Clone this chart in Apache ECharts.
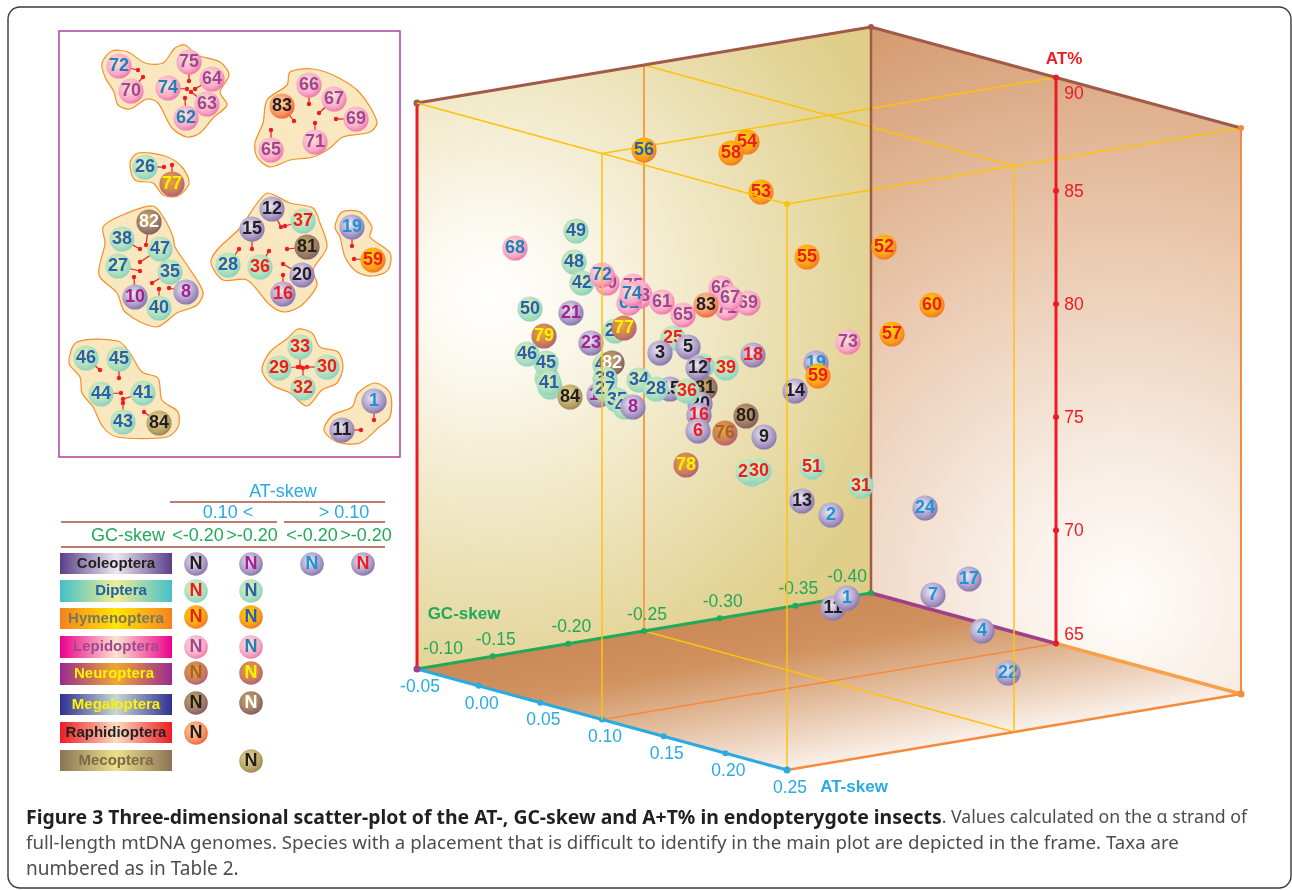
<!DOCTYPE html>
<html>
<head>
<meta charset="utf-8">
<style>
  html, body { margin: 0; padding: 0; background: #fff; }
  #main { width: 1292px; height: 890px; }
</style>
<script src="https://cdn.jsdelivr.net/npm/echarts@6/dist/echarts.min.js"></script>
</head>
<body>
<div id="main"></div>
<script>
// taxon number, then position in the picture plane (hidden axes, 0..1292 and 0..890), in paint order
const mainPoints = [
  [56,644,150],[54,747,142],[58,731,153],[53,761,192],[55,807,257],[52,884,247],[60,932,305],[57,892,334],[73,848,342],
  [68,515,248],[49,576,231],[48,574,262],[42,582,283],[70,607,283],[72,602,275],[50,530,309],[21,571,313],[79,544,336],[23,591,343],
  [44,547,378],[43,550,387],[45,546,363],[46,527,354],[41,549,383],[84,570,397],
  [26,615,331],[77,624,328],[47,605,365],[82,612,363],[38,605,379],[10,599,395],[27,605,389],[35,617,400],[40,625,407],[8,633,407],
  [34,639,380],[15,670,389],[28,656,389],
  [75,633,286],[64,639,293],[63,640,296],[62,629,303],[74,632,294],[61,662,302],[65,683,315],
  [71,727,308],[69,748,303],[66,721,288],[67,730,298],[83,706,305],
  [25,673,338],[3,660,353],[5,688,347],[37,702,366],[81,705,388],[12,698,368],[39,726,368],[18,753,355],
  [20,700,404],[16,699,415],[6,698,431],[36,687,391],[80,746,416],[76,725,433],[9,764,437],[78,686,465],
  [19,816,363],[59,818,376],[14,795,391],[51,812,467],[31,861,486],[13,802,501],[2,831,515],
  [33,750,473],[32,752,474],[29,748,472],[30,759,471],[24,925,508],[17,969,579],[7,933,595],[4,982,631],[22,1008,673],[11,833,608],[1,847,598]
];
// inset: taxon number, ball x, y, end of the red leader x, y
const insetPoints = [
  [72,119,66,138,70],[70,131,91,143,77],[75,189,62,189,81],[64,212,79,195,89],[74,168,88,187,89],[63,207,104,191,92],[62,186,118,185,98],
  [66,309,85,309,104],[67,334,99,319,113],[83,282,106,294,121],[69,356,119,336,119],[71,315,142,315,123],[65,271,150,271,130],
  [26,145,167,164,167],[77,172,184,172,165],
  [82,149,222,146,245],[38,122,239,140,249],[47,160,249,140,262],[27,118,266,140,271],[35,170,272,152,283],[10,135,297,134,277],[8,186,292,169,288],[40,159,308,159,289],
  [12,272,209,281,227],[37,303,221,285,226],[15,252,229,252,249],[81,307,247,287,249],[28,228,265,239,249],[36,260,267,269,251],[20,302,275,283,264],[16,283,294,283,275],
  [19,352,227,352,246],[59,373,260,354,259],
  [46,86,358,100,370],[45,119,359,119,378],[44,101,394,121,393],[41,143,393,123,399],[43,123,422,123,403],[84,159,423,144,412],
  [33,300,347,300,367],[29,279,368,298,367],[30,327,367,307,367],[32,303,388,303,368],
  [1,374,401,374,420],[11,342,430,361,430]
];
const insetHulls = [
  [[102,63],[112,51],[128,52],[145,63],[163,63],[175,48],[185,45],[197,55],[220,62],[229,75],[220,92],[227,105],[213,118],[200,133],[187,137],[172,128],[158,103],[147,99],[130,109],[118,105],[114,92],[105,77]],
  [[290,72],[313,69],[337,77],[360,93],[377,122],[370,132],[343,137],[330,148],[313,157],[290,160],[270,167],[257,157],[255,143],[263,123],[267,100],[287,85]],
  [[130,163],[138,153],[165,156],[182,167],[189,183],[178,196],[163,195],[153,183],[135,180]],
  [[153,206],[165,220],[173,237],[175,247],[187,265],[203,292],[197,305],[177,313],[156,327],[125,312],[117,293],[99,275],[105,243],[103,227],[120,216]],
  [[258,202],[268,193],[290,203],[313,208],[320,223],[327,247],[313,270],[317,285],[302,305],[285,312],[270,305],[247,280],[223,280],[211,263],[217,250],[240,228]],
  [[335,227],[342,212],[360,212],[372,227],[370,237],[390,253],[388,270],[373,276],[357,272],[345,257],[340,237]],
  [[69,363],[77,342],[118,341],[130,353],[142,372],[158,378],[162,400],[178,412],[178,427],[167,437],[117,437],[103,427],[93,407],[82,393],[80,377]],
  [[288,338],[298,329],[312,333],[320,347],[338,352],[343,367],[337,383],[322,390],[307,406],[290,393],[272,385],[262,370],[270,352]],
  [[358,393],[375,383],[390,393],[390,417],[378,428],[360,443],[337,442],[324,430],[333,415],[352,407]]
];

// membership of each legend cell
const coleopteraBlack = [3,5,9,11,12,13,14,15,20];
const coleopteraMagenta = [8,10,21,23];
const coleopteraBlue = [1,2,4,7,17,19,22,24];
const coleopteraRed = [6,16,18];
const dipteraRed = [25,29,30,31,32,33,36,37,39,51];
const dipteraBlue = [26,27,28,34,35,38,40,41,42,43,44,45,46,47,48,49,50];
const hymenopteraRed = [52,53,54,55,57,58,59,60];
const hymenopteraBlue = [56];
const lepidopteraPurple = [61,63,64,65,66,67,69,70,71,73,75];
const lepidopteraBlue = [62,68,72,74];
const neuropteraBrown = [76];
const neuropteraYellow = [77,78,79];
const megalopteraBlack = [80,81];
const megalopteraWhite = [82];
const raphidiopteraBlack = [83];
const mecopteraBlack = [84];

const atSkewTicks = [-0.05,0,0.05,0.10,0.15,0.20,0.25];
const gcSkewTicks = [-0.10,-0.15,-0.20,-0.25,-0.30,-0.35,-0.40];
const atPercentTicks = [65,70,75,80,85,90];
const taxonNames = ['Coleoptera','Diptera','Hymenoptera','Lepidoptera','Neuroptera','Megaloptera','Raphidioptera','Mecoptera'];

const BLACK = '#231f20', RED = '#ed1c24', NAVY = '#2860ab', SKY = '#1c93d7', MAGENTA = '#a5208f',
  PLUM = '#a0488f', TEAL = '#2080b8', BROWN = '#a6622a', YELLOW = '#fff200', WHITE = '#ffffff';

const ballStops = {
  Coleoptera: ['#ece8f2', '#a99ac6', '#8a78ad'],
  Diptera: ['#f0efae', '#aadfc0', '#8fd3bb'],
  Hymenoptera: ['#ffdc00', '#f9a01b', '#f37a20'],
  Lepidoptera: ['#fde3d2', '#f9a9c8', '#f27aaa'],
  Neuroptera: ['#eaa63a', '#c97c5c', '#b65f7c'],
  Megaloptera: ['#cdae62', '#9c7a68', '#83605f'],
  Raphidioptera: ['#fcd6a6', '#f89262', '#f1683c'],
  Mecoptera: ['#ecdc9c', '#baa66a', '#9e8856']
};
const barStyles = [
  ['#5b3f87', '#ebe7f1', BLACK],
  ['#45bfc9', '#f0ee90', '#2260ab'],
  ['#f58220', '#ffe600', '#7d7560'],
  ['#ec008c', '#fbe5cf', PLUM],
  ['#9a2b92', '#f0a830', YELLOW],
  ['#2e3192', '#c8d8d0', YELLOW],
  ['#ed1c24', '#fbdcc0', BLACK],
  ['#8b7355', '#f0e08a', '#7a6a4a']
];
// taxon row, column, ids, ink
const legendCells = [
  [0,0,coleopteraBlack,BLACK],[0,1,coleopteraMagenta,MAGENTA],[0,2,coleopteraBlue,SKY],[0,3,coleopteraRed,RED],
  [1,0,dipteraRed,RED],[1,1,dipteraBlue,NAVY],
  [2,0,hymenopteraRed,RED],[2,1,hymenopteraBlue,NAVY],
  [3,0,lepidopteraPurple,PLUM],[3,1,lepidopteraBlue,TEAL],
  [4,0,neuropteraBrown,BROWN],[4,1,neuropteraYellow,YELLOW],
  [5,0,megalopteraBlack,BLACK],[5,1,megalopteraWhite,WHITE],
  [6,0,raphidiopteraBlack,BLACK],
  [7,1,mecopteraBlack,BLACK]
];
const legendColX = [196,251,312,363];
const legendRowY = [564,591,617,647,673,703,733,761];
const barRowY = [553,580,608,636,663,694,722,750];
const barRowH = [21,22,21,22,22,21,21,21];
const barTextX = [116,121,116,116,114,116,116,116];

const lookup = {};
legendCells.forEach(function (c) {
  c[2].forEach(function (id) { lookup[id] = { taxon: taxonNames[c[0]], ink: c[3] }; });
});

// the box is an oblique projection: AT-skew and GC-skew run along the floor, A+T% straight up
function project(at, gc, pct) {
  const a = (at + 0.05) / 0.30, g = (-0.10 - gc) / 0.30;
  return [417 + a * 370 + g * 454, 669 + a * 101 - g * 76 - (pct - 65) * 566 / 25];
}

function ball(x, y, id, text, order, ink, r) {
  const s = ballStops[lookup[id].taxon];
  return [
    { type: 'circle', z2: order * 2, shape: { cx: x, cy: y, r: r },
      style: { fill: { type: 'radial', x: 0.42, y: 0.38, r: 0.62, colorStops: [
        { offset: 0, color: s[0] }, { offset: 0.72, color: s[1] }, { offset: 1, color: s[2] }] } } },
    { type: 'text', z2: order * 2 + 1, x: x, y: y + 0.5,
      style: { text: text, fill: ink, font: 'bold 18px "Liberation Sans"', align: 'center', verticalAlign: 'middle' } }
  ];
}

function renderBalls(params, api) {
  const id = api.value(0);
  const p = api.coord([api.value(1), api.value(2)]);
  return { type: 'group', children: ball(p[0], p[1], id, String(id), params.dataIndex + 1, lookup[id].ink, 12.6) };
}

function line3(api, a, b, color, width) {
  const p = api.coord(project(a[0], a[1], a[2])), q = api.coord(project(b[0], b[1], b[2]));
  return { type: 'line', shape: { x1: p[0], y1: p[1], x2: q[0], y2: q[1] }, style: { stroke: color, lineWidth: width } };
}
function dot3(api, a, color, r) {
  const p = api.coord(project(a[0], a[1], a[2]));
  return { type: 'circle', z2: 5, shape: { cx: p[0], cy: p[1], r: r }, style: { fill: color } };
}
function wall(api, corners, fill) {
  return { type: 'polygon', shape: { points: corners.map(function (c) { return api.coord(project(c[0], c[1], c[2])); }) }, style: { fill: fill } };
}
function tickLabel(api, a, text, dx, dy, color) {
  const p = api.coord(project(a[0], a[1], a[2]));
  return { type: 'text', z2: 6, x: p[0] + dx, y: p[1] + dy,
    style: { text: text, fill: color, font: '17.5px "Liberation Sans"', align: 'center', verticalAlign: 'middle' } };
}

const AT0 = -0.05, AT1 = 0.25, ATM = 0.10, GC0 = -0.10, GC1 = -0.40, GCM = -0.25, P0 = 65, P1 = 90;
const LINE_YELLOW = '#fcc30d', LINE_ORANGE = '#f58a3c', EDGE_BROWN = '#a25a48';
const GC_GREEN = '#21a95a', AT_BLUE = '#29abe2';

function renderBox(params, api) {
  const c = [];
  c.push(wall(api, [[AT0,GC0,P1],[AT0,GC1,P1],[AT0,GC1,P0],[AT0,GC0,P0]],
    { type: 'radial', x: 0.16, y: 0.42, r: 1.0, colorStops: [
      { offset: 0, color: '#ffffff' }, { offset: 0.12, color: '#fdfbf4' }, { offset: 0.5, color: '#efe6c2' }, { offset: 0.9, color: '#e1d08e' }, { offset: 1, color: '#dfcd88' }] }));
  c.push(wall(api, [[AT0,GC1,P1],[AT1,GC1,P1],[AT1,GC1,P0],[AT0,GC1,P0]],
    { type: 'radial', x: 0.68, y: 0.86, r: 1.75, colorStops: [
      { offset: 0, color: '#fffdfb' }, { offset: 0.2, color: '#f8eee5' }, { offset: 0.6, color: '#e8c4a8' }, { offset: 1, color: '#d2966a' }] }));
  // floor shades from the GC-skew edge towards the front edge
  c.push(wall(api, [[AT0,GC0,P0],[AT0,GC1,P0],[AT1,GC1,P0],[AT1,GC0,P0]],
    { type: 'linear', x: 0.275, y: 0.215, x2: 0.308, y2: 1.11, colorStops: [
      { offset: 0, color: '#cb8a58' }, { offset: 0.28, color: '#d0925f' }, { offset: 1, color: '#faf0e8' }] }));

  // thin guide planes behind the balls
  c.push(line3(api, [AT0,GCM,P0], [AT0,GCM,P1], '#f59f4e', 2));
  c.push(line3(api, [ATM,GC0,P1], [ATM,GC1,P1], LINE_YELLOW, 1.5));
  c.push(line3(api, [AT1,GC0,P1], [AT1,GC1,P1], LINE_YELLOW, 1.5));
  c.push(line3(api, [AT0,GCM,P1], [AT1,GCM,P1], LINE_YELLOW, 1.5));
  c.push(line3(api, [AT0,GCM,P0], [AT1,GCM,P0], LINE_YELLOW, 1.5));
  c.push(line3(api, [ATM,GC0,P0], [ATM,GC1,P0], LINE_ORANGE, 1.3));

  // box edges
  c.push(line3(api, [AT0,GC0,P1], [AT0,GC1,P1], EDGE_BROWN, 3));
  c.push(line3(api, [AT0,GC1,P1], [AT1,GC1,P1], EDGE_BROWN, 3));
  c.push(line3(api, [AT0,GC1,P0], [AT0,GC1,P1], EDGE_BROWN, 2.5));
  c.push(line3(api, [AT0,GC0,P0], [AT0,GC0,P1], RED, 3));
  c.push(line3(api, [AT1,GC1,P0], [AT1,GC1,P1], LINE_ORANGE, 2));
  c.push(line3(api, [AT1,GC0,P0], [AT1,GC1,P0], LINE_ORANGE, 2.5));
  c.push(line3(api, [AT0,GC1,P0], [ATM,GC1,P0], '#a0408c', 3.5));
  c.push(line3(api, [ATM,GC1,P0], [AT1,GC1,P0], '#f7a14a', 3.5));
  c.push(line3(api, [AT0,GC0,P0], [AT0,GC1,P0], GC_GREEN, 3));
  c.push(line3(api, [AT0,GC0,P0], [AT1,GC0,P0], AT_BLUE, 3));
  c.push(line3(api, [ATM,GC1,P0], [ATM,GC1,P1], RED, 3));

  c.push(dot3(api, [AT0,GC0,P1], EDGE_BROWN, 3.5));
  c.push(dot3(api, [AT0,GC1,P1], EDGE_BROWN, 3));
  c.push(dot3(api, [AT1,GC1,P1], LINE_ORANGE, 3));
  c.push(dot3(api, [AT1,GC1,P0], LINE_ORANGE, 3.5));
  c.push(dot3(api, [AT0,GC0,P0], '#a0408c', 3.5));

  gcSkewTicks.forEach(function (g, i) {
    if (i > 0) c.push(dot3(api, [AT0,g,P0], GC_GREEN, 3));
    const dx = i === 0 ? 26 : i === 6 ? -24 : 3;
    const dy = i === 0 ? -20 : -16;
    c.push(tickLabel(api, [AT0,g,P0], g.toFixed(2), dx, dy, GC_GREEN));
  });
  atSkewTicks.forEach(function (a, i) {
    if (i > 0) c.push(dot3(api, [a,GC0,P0], AT_BLUE, 3));
    c.push(tickLabel(api, [a,GC0,P0], a.toFixed(2), 3, 18, AT_BLUE));
  });
  atPercentTicks.forEach(function (p, i) {
    c.push(dot3(api, [ATM,GC1,p], RED, 3));
    const dy = i === 0 ? -8 : i === 5 ? 17 : 1;
    c.push(tickLabel(api, [ATM,GC1,p], String(p), 18, dy, RED));
  });
  return { type: 'group', children: c };
}

// these guide lines pass in front of the balls
function renderFront(params, api) {
  return { type: 'group', children: [
    line3(api, [AT0,GC0,P1], [AT1,GC0,P1], LINE_YELLOW, 1.5),
    line3(api, [ATM,GC0,P0], [ATM,GC0,P1], LINE_YELLOW, 1.5),
    line3(api, [AT1,GC0,P0], [AT1,GC0,P1], LINE_YELLOW, 1.5),
    line3(api, [AT1,GCM,P0], [AT1,GCM,P1], LINE_YELLOW, 1.5),
    dot3(api, [AT1,GC0,P1], LINE_YELLOW, 3),
    dot3(api, [AT1,GC0,P0], AT_BLUE, 3.5)
  ] };
}

function renderHull(params, api) {
  const pts = insetHulls[params.dataIndex].map(function (p) { return api.coord(p); });
  return { type: 'polygon', shape: { points: pts, smooth: 0.3 }, style: { fill: '#f9e8bf', stroke: '#f58e2a', lineWidth: 1.2 } };
}

function renderInset(params, api) {
  const id = api.value(0);
  const p = api.coord([api.value(1), api.value(2)]);
  const q = api.coord([api.value(3), api.value(4)]);
  const children = [
    { type: 'line', z2: 0, shape: { x1: p[0], y1: p[1], x2: q[0], y2: q[1] }, style: { stroke: RED, lineWidth: 1.2 } },
    { type: 'circle', z2: 0, shape: { cx: q[0], cy: q[1], r: 2.2 }, style: { fill: RED } }
  ].concat(ball(p[0], p[1], id, String(id), 1, lookup[id].ink, 12.6));
  return { type: 'group', children: children };
}

function renderKey(params, api) {
  const cell = legendCells[params.dataIndex];
  const p = api.coord([legendColX[cell[1]], legendRowY[cell[0]]]);
  return { type: 'group', children: ball(p[0], p[1], cell[2][0], 'N', 1, cell[3], 11.8) };
}

function headText(text, x, y, color) {
  return { type: 'text', z: 9, x: x, y: y, style: { text: text, fill: color, font: '18px "Liberation Sans"', align: 'center', verticalAlign: 'middle' } };
}
function headRule(x1, x2, y) {
  return { type: 'line', z: 9, shape: { x1: x1, y1: y, x2: x2, y2: y }, style: { stroke: '#a8503c', lineWidth: 1.3 } };
}

const graphics = [
  { type: 'rect', z: 0, shape: { x: 8, y: 7, width: 1283, height: 881, r: 12 }, style: { fill: 'none', stroke: '#3a3a3a', lineWidth: 1.4 } },
  { type: 'rect', z: 1, shape: { x: 59, y: 31, width: 341, height: 426 }, style: { fill: 'none', stroke: '#b23fa6', lineWidth: 1.5 } },
  headText('AT-skew', 283, 492, AT_BLUE),
  headRule(170, 385, 502),
  headText('0.10 <', 228, 513, AT_BLUE),
  headText('> 0.10', 344, 513, AT_BLUE),
  headRule(61, 277, 522),
  headRule(284, 385, 522),
  headText('GC-skew', 128, 536, GC_GREEN),
  headText('<-0.20', 198, 536, GC_GREEN),
  headText('>-0.20', 252, 536, GC_GREEN),
  headText('<-0.20', 312, 536, GC_GREEN),
  headText('>-0.20', 366, 536, GC_GREEN),
  headRule(61, 385, 547),
  { type: 'text', z: 9, x: 464, y: 614, style: { text: 'GC-skew', fill: GC_GREEN, font: 'bold 17px "Liberation Sans"', align: 'center', verticalAlign: 'middle' } },
  { type: 'text', z: 9, x: 854, y: 787, style: { text: 'AT-skew', fill: AT_BLUE, font: 'bold 17px "Liberation Sans"', align: 'center', verticalAlign: 'middle' } },
  { type: 'text', z: 9, x: 1064, y: 59, style: { text: 'AT%', fill: RED, font: 'bold 17px "Liberation Sans"', align: 'center', verticalAlign: 'middle' } },
  { type: 'text', z: 9, x: 26, y: 818, style: {
    text: '{b|Figure 3 Three-dimensional scatter-plot of the AT-, GC-skew and A+T% in endopterygote insects}{r|. Values calculated on the α strand of}',
    verticalAlign: 'middle',
    rich: {
      b: { font: 'bold 19.4px "Noto Sans"', fill: '#231f20' },
      r: { font: '17.7px "Noto Sans"', fill: '#4d4d4f' }
    } } },
  { type: 'text', z: 9, x: 26, y: 844, style: { text: 'full-length mtDNA genomes. Species with a placement that is difficult to identify in the main plot are depicted in the frame. Taxa are', fill: '#4d4d4f', font: '18.7px "Noto Sans"', verticalAlign: 'middle' } },
  { type: 'text', z: 9, x: 26, y: 870, style: { text: 'numbered as in Table 2.', fill: '#4d4d4f', font: '19px "Noto Sans"', verticalAlign: 'middle' } }
];
taxonNames.forEach(function (name, i) {
  const st = barStyles[i];
  graphics.push({ type: 'rect', z: 8, shape: { x: 60, y: barRowY[i], width: 112, height: barRowH[i] },
    style: { fill: { type: 'linear', x: 0, y: 0, x2: 1, y2: 0, colorStops: [
      { offset: 0, color: st[0] }, { offset: 0.5, color: st[1] }, { offset: 1, color: st[0] }] } } });
  graphics.push({ type: 'text', z: 9, x: barTextX[i], y: barRowY[i] + barRowH[i] / 2,
    style: { text: name, fill: st[2], font: 'bold 15px "Liberation Sans"', align: 'center', verticalAlign: 'middle' } });
});

const myChart = echarts.init(document.getElementById('main'));
myChart.setOption({
  animation: false,
  backgroundColor: '#ffffff',
  grid: { left: 0, right: 0, top: 0, bottom: 0 },
  xAxis: { type: 'value', min: 0, max: 1292, show: false },
  yAxis: { type: 'value', min: 0, max: 890, inverse: true, show: false },
  graphic: graphics,
  series: [
    { type: 'custom', name: 'box', z: 2, renderItem: renderBox, data: [[0, 0]], encode: { x: 0, y: 1 }, silent: true },
    { type: 'custom', name: 'main', z: 3, renderItem: renderBalls, data: mainPoints, encode: { x: 1, y: 2 }, silent: true },
    { type: 'custom', name: 'front', z: 4, renderItem: renderFront, data: [[0, 0]], encode: { x: 0, y: 1 }, silent: true },
    { type: 'custom', name: 'hulls', z: 2, renderItem: renderHull, data: insetHulls.map(function (h, i) { return [h[0][0], h[0][1], i]; }), encode: { x: 0, y: 1 }, silent: true },
    { type: 'custom', name: 'inset', z: 3, renderItem: renderInset, data: insetPoints, encode: { x: 1, y: 2 }, silent: true },
    { type: 'custom', name: 'key', z: 9, renderItem: renderKey, data: legendCells.map(function (c) { return [legendColX[c[1]], legendRowY[c[0]]]; }), encode: { x: 0, y: 1 }, silent: true }
  ]
});
</script>
</body>
</html>
